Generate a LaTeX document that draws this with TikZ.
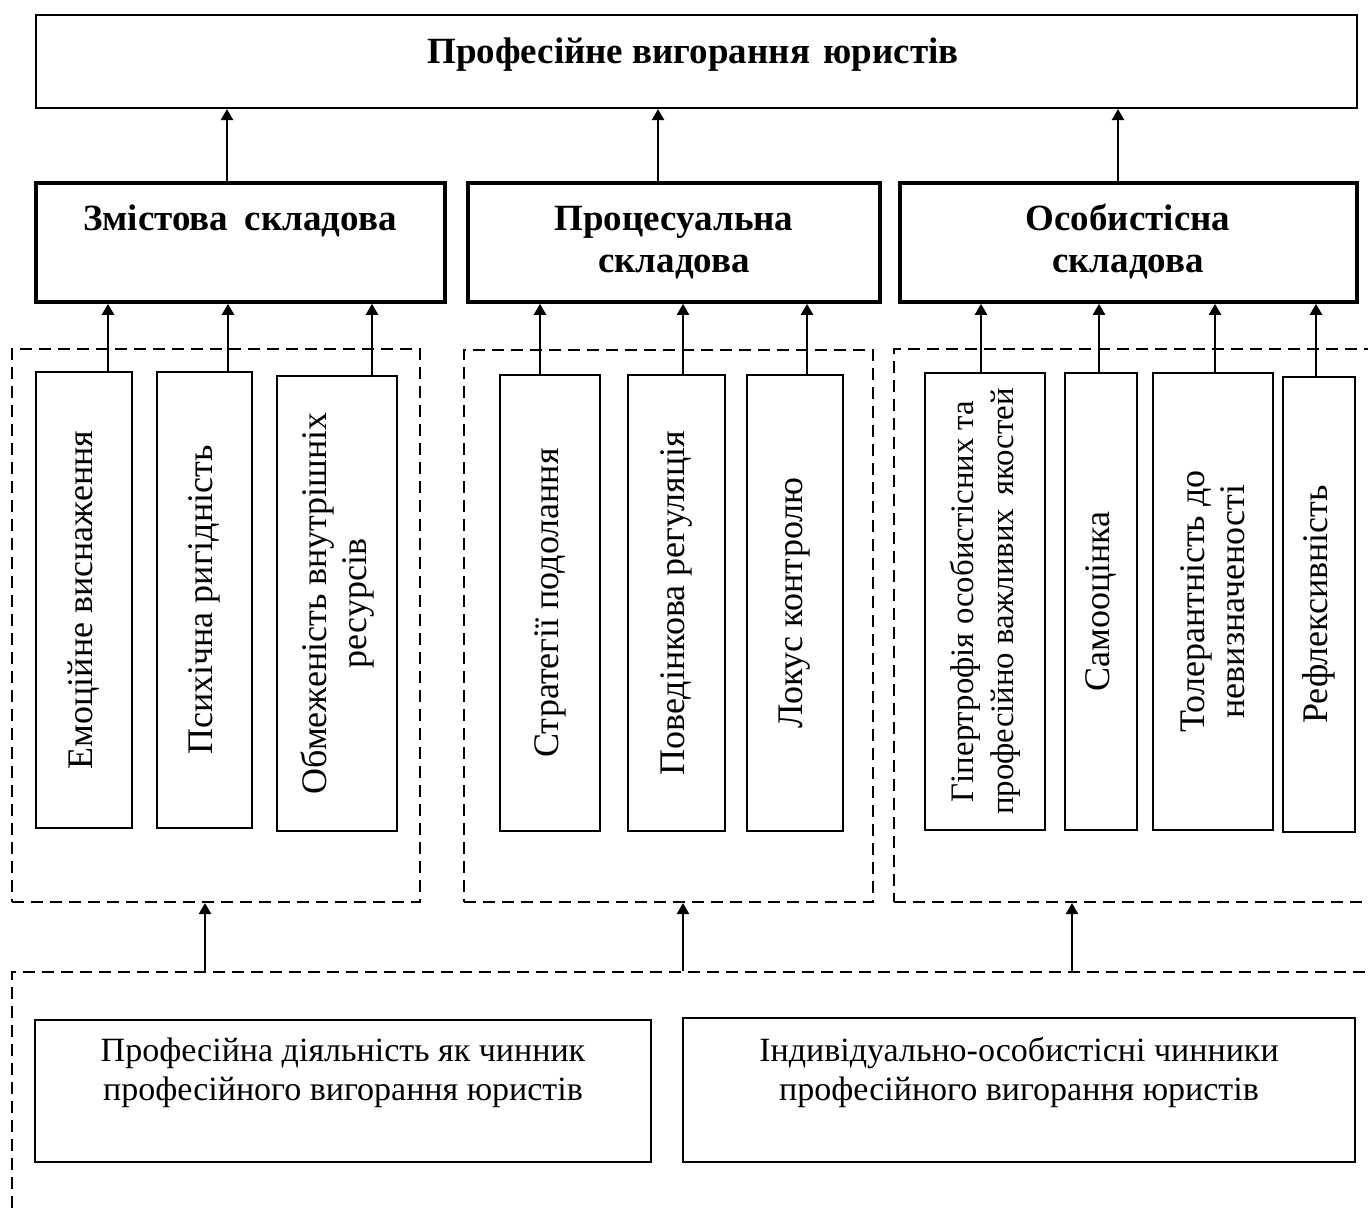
\documentclass[tikz,border=0pt]{standalone}
\usepackage{fontspec}
\setmainfont{Liberation Serif}
\usetikzlibrary{arrows.meta,fit}

\begin{document}
\begin{tikzpicture}[x=0.5pt,y=-0.5pt,>={Triangle[length=5.5pt,width=6pt]},
  frame/.style={draw,line width=1pt,inner sep=0pt},
  heavy/.style={draw,line width=1.8pt,inner sep=0pt},
  group/.style={draw,line width=1pt,dash pattern=on 6pt off 3.5pt,inner sep=0pt},
  arr/.style={->,line width=1.2pt},
  headtext/.style={font=\fontsize{18.5}{21}\selectfont\bfseries,align=center,anchor=base,inner sep=0pt},
  vtext/.style={font=\fontsize{18}{20}\selectfont,align=center,rotate=90,inner sep=0pt},
  btext/.style={font=\fontsize{17}{19.25}\selectfont,align=center,anchor=base,inner sep=0pt}]
\useasboundingbox (0,0) rectangle (1368,1207);
\clip (0,0) rectangle (1368,1207);

% top level
\node[frame,fit={(36,15) (1357,108)}] (burnout) {};
\node[headtext] (burnoutText) at (693,63) {Професійне вигорання\hspace{0.12em} юристів};

% components
\node[heavy,fit={(36,183) (445,302)}] (content) {};
\node[heavy,fit={(468,183) (880,302)}] (process) {};
\node[heavy,fit={(900,183) (1357,302)}] (personal) {};
\node[headtext] (contentText) at (240,230) {Змістова\hspace{0.2em} складова};
\node[headtext] (processText) at (674,272) {Процесуальна\\складова};
\node[headtext] (personalText) at (1128,272) {Особистісна\\складова};

% groups of indicators
\node[group,fit={(12,349) (420,902)}] (groupA) {};
\node[group,fit={(464,350) (873,902)}] (groupB) {};
\node[group,fit={(894,349) (1400,902)}] (groupC) {};
\node[group,fit={(12,972) (1400,1240)}] (factors) {};

\node[frame,fit={(36,372) (132,828)}] (emo) {};
\node[frame,fit={(157,372) (252,828)}] (rig) {};
\node[frame,fit={(277,376) (397,831)}] (res) {};
\node[frame,fit={(500,375) (600,831)}] (cope) {};
\node[frame,fit={(628,375) (725,831)}] (behav) {};
\node[frame,fit={(747,375) (843,831)}] (locus) {};
\node[frame,fit={(925,373) (1045,830)}] (hyper) {};
\node[frame,fit={(1065,373) (1137,830)}] (self) {};
\node[frame,fit={(1153,373) (1273,830)}] (toler) {};
\node[frame,fit={(1283,377) (1355,832)}] (refl) {};

\node[vtext] (emoText) at (emo) {Емоційне виснаження};
\node[vtext] (rigText) at (rig) {Психічна ригідність};
\node[vtext] (resText) at (res) {Обмеженість внутрішніх\\ресурсів};
\node[vtext] (copeText) at (cope) {Стратегії подолання};
\node[vtext] (behavText) at (behav) {Поведінкова регуляція};
\node[vtext] (locusText) at (locus) {Локус контролю};
\node[vtext,font=\fontsize{16.4}{20}\selectfont] (hyperText) at (hyper) {Гіпертрофія особистісних та\\професійно важливих\hspace{0.15em} якостей};
\node[vtext] (selfText) at (self) {Самооцінка};
\node[vtext] (tolerText) at (toler) {Толерантність до\\невизначеності};
\node[vtext] (reflText) at (refl) {Рефлексивність};

% factors
\node[frame,fit={(35,1020) (651,1162)}] (activity) {};
\node[frame,fit={(683,1018) (1355,1162)}] (individual) {};
\node[btext] (activityText) at (343,1100) {Професійна діяльність як чинник\\професійного вигорання юристів};
\node[btext] (individualText) at (1019,1100) {Індивідуально-особистісні чинники\\професійного вигорання юристів};

% connectors
\draw[arr] (content.north -| 227,0) -- (burnout.south -| 227,0);
\draw[arr] (process.north -| 658,0) -- (burnout.south -| 658,0);
\draw[arr] (personal.north -| 1118,0) -- (burnout.south -| 1118,0);
\draw[arr] (emo.north -| 108,0) -- (content.south -| 108,0);
\draw[arr] (rig.north -| 228,0) -- (content.south -| 228,0);
\draw[arr] (res.north -| 372,0) -- (content.south -| 372,0);
\draw[arr] (cope.north -| 540,0) -- (process.south -| 540,0);
\draw[arr] (behav.north -| 683,0) -- (process.south -| 683,0);
\draw[arr] (locus.north -| 807,0) -- (process.south -| 807,0);
\draw[arr] (hyper.north -| 981,0) -- (personal.south -| 981,0);
\draw[arr] (self.north -| 1099,0) -- (personal.south -| 1099,0);
\draw[arr] (toler.north -| 1215,0) -- (personal.south -| 1215,0);
\draw[arr] (refl.north -| 1316,0) -- (personal.south -| 1316,0);
\draw[arr] (factors.north -| 205,0) -- (groupA.south -| 205,0);
\draw[arr] (factors.north -| 683,0) -- (groupB.south -| 683,0);
\draw[arr] (factors.north -| 1072,0) -- (groupC.south -| 1072,0);
\end{tikzpicture}
\end{document}
